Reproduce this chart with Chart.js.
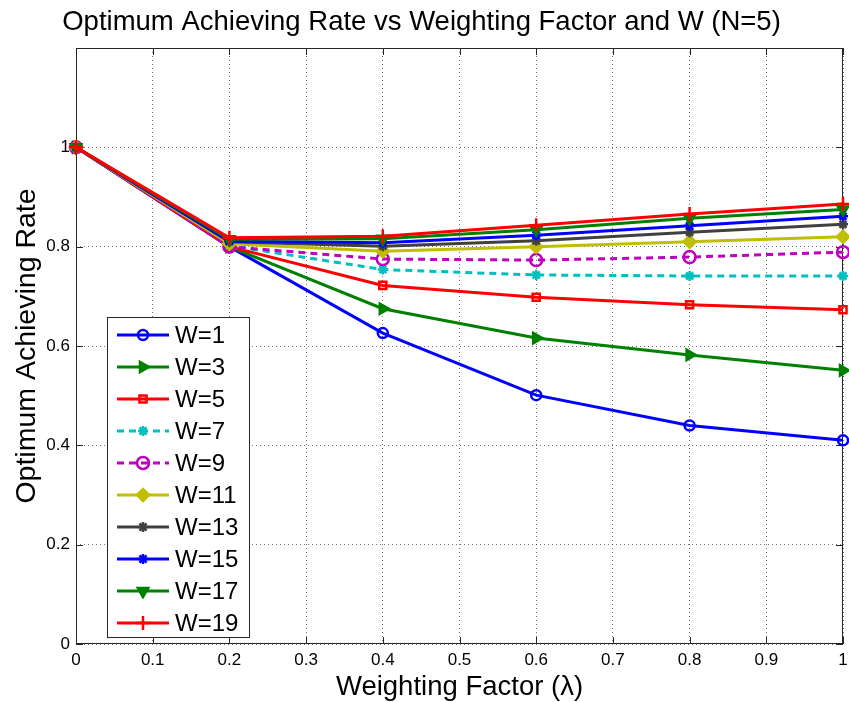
<!DOCTYPE html>
<html>
<head>
<meta charset="utf-8">
<script src="https://cdn.jsdelivr.net/npm/chart.js@4/dist/chart.umd.min.js"></script>
<style>
html,body{margin:0;padding:0;background:#fff;}
#wrap{width:849px;height:702px;position:relative;}
</style>
</head>
<body>
<div id="wrap"><canvas id="c" width="849" height="702"></canvas></div>
<script>
// ---- data ----
const xValues = [0, 0.2, 0.4, 0.6, 0.8, 1];
const seriesNames = ['W=1','W=3','W=5','W=7','W=9','W=11','W=13','W=15','W=17','W=19'];
const w1  = [1, 0.800, 0.626, 0.501, 0.440, 0.410];
const w3  = [1, 0.800, 0.675, 0.616, 0.582, 0.551];
const w5  = [1, 0.800, 0.722, 0.698, 0.683, 0.673];
const w7  = [1, 0.802, 0.754, 0.743, 0.741, 0.741];
const w9  = [1, 0.800, 0.775, 0.773, 0.779, 0.789];
const w11 = [1, 0.806, 0.791, 0.800, 0.810, 0.820];
const w13 = [1, 0.810, 0.801, 0.812, 0.829, 0.845];
const w15 = [1, 0.811, 0.808, 0.823, 0.842, 0.861];
const w17 = [1, 0.815, 0.816, 0.834, 0.857, 0.875];
const w19 = [1, 0.818, 0.821, 0.843, 0.866, 0.886];
const seriesValues = [w1, w3, w5, w7, w9, w11, w13, w15, w17, w19];
const yTicks = [0, 0.2, 0.4, 0.6, 0.8, 1];
const xTicks = [0, 0.1, 0.2, 0.3, 0.4, 0.5, 0.6, 0.7, 0.8, 0.9, 1];

// ---- styles ----
const styles = [
  {c:'#0000FF', ps:'circle',   r:5, rot:0,   fill:false, dash:[]},
  {c:'#008000', ps:'triangle', r:6, rot:90,  fill:true,  dash:[]},
  {c:'#FF0000', ps:'rect',     r:5, rot:0,   fill:false, dash:[]},
  {c:'#00BFBF', ps:'star',     r:5, rot:0,   fill:false, dash:[7,5]},
  {c:'#BF00BF', ps:'circle',   r:6, rot:0,   fill:false, dash:[7,5]},
  {c:'#BFBF00', ps:'rectRot',  r:6, rot:0,   fill:true,  dash:[]},
  {c:'#404040', ps:'star',     r:5, rot:0,   fill:true,  dash:[]},
  {c:'#0000FF', ps:'star',     r:5, rot:0,   fill:true,  dash:[]},
  {c:'#008000', ps:'triangle', r:6, rot:180, fill:true,  dash:[]},
  {c:'#FF0000', ps:'cross',    r:7, rot:0,   fill:false, dash:[]}
];

const FONT = "'Liberation Sans', Arial, Helvetica, sans-serif";

const datasets = seriesValues.map((vals, i) => ({
  label: seriesNames[i],
  data: vals.map((v, k) => ({x: xValues[k], y: v})),
  borderColor: styles[i].c,
  backgroundColor: styles[i].fill ? styles[i].c : 'rgba(0,0,0,0)',
  borderWidth: 3,
  borderDash: styles[i].dash,
  pointStyle: styles[i].ps,
  pointRadius: styles[i].r,
  pointRotation: styles[i].rot,
  pointBorderWidth: 2.5,
  pointBorderColor: styles[i].c,
  pointBackgroundColor: styles[i].fill ? styles[i].c : 'rgba(0,0,0,0)',
  tension: 0,
  clip: false,
  order: 10 - i
}));

const frame = {
  id: 'frame',
  beforeDatasetsDraw(chart) {
    const {ctx, chartArea: a} = chart;
    ctx.save();
    ctx.strokeStyle = '#262626';
    ctx.lineWidth = 1;
    ctx.setLineDash([]);
    ctx.strokeRect(a.left + 0.5, a.top + 0.5, a.right - a.left - 1, a.bottom - a.top - 1);
    // inward tick marks
    const xs = chart.scales.x, ys = chart.scales.y;
    ctx.beginPath();
    xTicks.forEach(t => {
      const px = Math.round(xs.getPixelForValue(t)) + 0.5;
      ctx.moveTo(px, a.bottom); ctx.lineTo(px, a.bottom - 7);
      ctx.moveTo(px, a.top); ctx.lineTo(px, a.top + 7);
    });
    yTicks.forEach(t => {
      const py = Math.round(ys.getPixelForValue(t)) + 0.5;
      ctx.moveTo(a.left, py); ctx.lineTo(a.left + 7, py);
      ctx.moveTo(a.right, py); ctx.lineTo(a.right - 7, py);
    });
    ctx.stroke();
    ctx.restore();
  }
};

const legendBox = {
  id: 'legendBox',
  afterDraw(chart) {
    const {ctx, chartArea: a} = chart;
    const bx = a.left + 31, bw = 142, bh = 320;
    const by = a.bottom - 7 - bh;
    ctx.save();
    ctx.fillStyle = '#fff';
    ctx.fillRect(bx, by, bw, bh);
    ctx.strokeStyle = '#262626';
    ctx.lineWidth = 1;
    ctx.setLineDash([]);
    ctx.strokeRect(bx + 0.5, by + 0.5, bw, bh);
    ctx.font = '24px ' + FONT;
    ctx.textBaseline = 'middle';
    chart.data.datasets.forEach((ds, i) => {
      const cy = by + 18 + i * 32;
      ctx.strokeStyle = ds.borderColor;
      ctx.lineWidth = 3;
      ctx.setLineDash(ds.borderDash || []);
      ctx.beginPath();
      ctx.moveTo(bx + 10, cy); ctx.lineTo(bx + 62, cy);
      ctx.stroke();
      ctx.setLineDash([]);
      ctx.fillStyle = ds.pointBackgroundColor;
      ctx.strokeStyle = ds.pointBorderColor;
      ctx.lineWidth = 2.5;
      if (Chart.helpers && Chart.helpers.drawPoint) {
        Chart.helpers.drawPoint(ctx, {pointStyle: ds.pointStyle, radius: ds.pointRadius, rotation: ds.pointRotation, borderWidth: 2.5}, bx + 36, cy);
      }
      ctx.fillStyle = '#000';
      ctx.fillText(ds.label, bx + 68, cy + 1);
    });
    ctx.restore();
  }
};

new Chart(document.getElementById('c'), {
  type: 'line',
  data: { datasets },
  plugins: [frame, legendBox],
  options: {
    responsive: false,
    animation: false,
    devicePixelRatio: 1,
    layout: { autoPadding: false, padding: { left: 0, right: 6, top: 0, bottom: 0 } },
    plugins: {
      legend: { display: false },
      tooltip: { enabled: false },
      title: {
        display: true,
        text: 'Optimum Achieving Rate vs Weighting Factor and W (N=5)',
        color: '#000',
        font: { family: FONT, size: 27.5, weight: 'normal', lineHeight: 1.2 },
        padding: { top: 5.5, bottom: 9.5 }
      }
    },
    scales: {
      x: {
        type: 'linear',
        min: 0, max: 1,
        afterBuildTicks: s => { s.ticks = xTicks.map(v => ({value: v})); },
        afterFit: s => { s.height = 58; s.paddingLeft = 0; s.paddingRight = 0; },
        ticks: {
          color: '#000',
          font: { family: FONT, size: 17 },
          padding: 6,
          maxRotation: 0,
          autoSkip: false,
          callback: v => String(Math.round(v * 10) / 10)
        },
        grid: { color: 'rgba(0,0,0,0.55)', lineWidth: 1, drawTicks: false },
        border: { display: false, dash: [1, 3] },
        title: {
          display: true,
          text: 'Weighting Factor (λ)',
          color: '#000',
          font: { family: FONT, size: 27.5, weight: 'normal', lineHeight: 1.0 },
          padding: { top: 0, bottom: 1 }
        }
      },
      y: {
        type: 'linear',
        min: 0, max: 1.2,
        afterBuildTicks: s => { s.ticks = yTicks.map(v => ({value: v})); },
        afterFit: s => { s.width = 76; s.paddingTop = 0; s.paddingBottom = 0; },
        ticks: {
          color: '#000',
          font: { family: FONT, size: 17 },
          padding: 6,
          autoSkip: false,
          callback: v => String(Math.round(v * 10) / 10)
        },
        grid: { color: 'rgba(0,0,0,0.55)', lineWidth: 1, drawTicks: false },
        border: { display: false, dash: [1, 3] },
        title: {
          display: true,
          text: 'Optimum Achieving Rate',
          color: '#000',
          font: { family: FONT, size: 28.5, weight: 'normal', lineHeight: 1.0 },
          padding: { top: 13, bottom: 0 }
        }
      }
    }
  }
});
</script>
</body>
</html>
